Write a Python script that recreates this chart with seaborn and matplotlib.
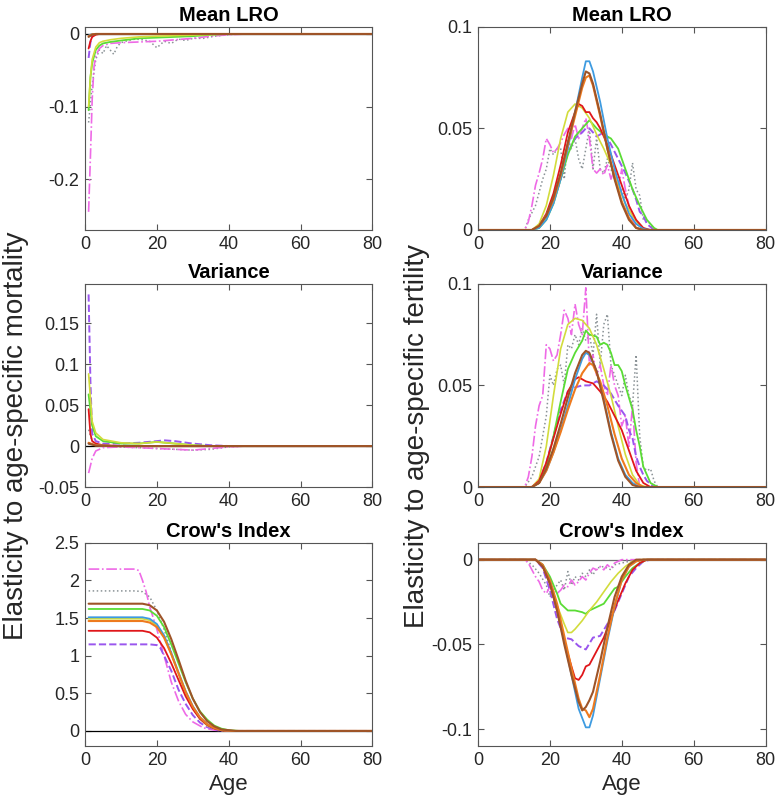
"""
Elasticity of LRO statistics to age-specific mortality and fertility.

Six panels: mean LRO, variance and Crow's index, each against age,
for mortality (left column) and fertility (right column).
"""
import matplotlib

matplotlib.use("Agg")
import matplotlib.pyplot as plt
import pandas as pd
import seaborn as sns

# ---------------------------------------------------------------- data
# each series is a list of (age, elasticity) points

# mortality, mean LRO
MM_BLUE = [(1, -0.002), (2, 0), (80, 0)]
MM_ORANGE = [(1, -0.003), (2, -0.0005), (3, 0), (80, 0)]
MM_YELLOW = [(1, -0.100), (1.5, -0.060), (2, -0.035), (3, -0.018), (4, -0.012), (5, -0.010),
             (7, -0.008), (10, -0.006), (15, -0.004), (20, -0.003), (30, -0.0015), (40, 0), (80, 0)]
MM_GREEN = [(1, -0.105), (1.5, -0.060), (2, -0.040), (3, -0.022), (4, -0.016), (5, -0.013),
            (7, -0.011), (10, -0.009), (15, -0.006), (20, -0.005), (25, -0.004), (30, -0.003),
            (35, -0.001), (40, 0), (80, 0)]
MM_RED = [(1, -0.020), (1.5, -0.010), (2, -0.004), (3, -0.001), (4, 0), (80, 0)]
MM_BROWN = [(1, -0.004), (2, -0.001), (3, 0), (80, 0)]
MM_PURPLE = [(1, -0.033), (1.5, -0.012), (2, -0.003), (3, 0), (80, 0)]
MM_GREY = [(1, -0.122), (2, -0.070), (3, -0.035), (4, -0.022), (5, -0.027), (6, -0.016),
           (7, -0.022), (8, -0.028), (9, -0.017), (10, -0.012), (12, -0.009), (14, -0.007),
           (16, -0.008), (18, -0.010), (20, -0.019), (22, -0.010), (24, -0.013), (26, -0.007),
           (28, -0.009), (30, -0.006), (33, -0.006), (36, -0.003), (40, -0.001), (43, 0), (80, 0)]
MM_MAGENTA = [(1, -0.245), (1.5, -0.170), (2, -0.090), (2.5, -0.045), (3, -0.030), (4, -0.020),
              (5, -0.016), (7, -0.013), (10, -0.012), (15, -0.011), (20, -0.010), (25, -0.008),
              (30, -0.006), (35, -0.003), (40, -0.001), (45, 0), (80, 0)]

# mortality, variance
MV_BLUE = [(1, 0.003), (3, 0.001), (8, 0), (80, 0)]
MV_ORANGE = [(1, 0.004), (3, 0.001), (8, 0), (80, 0)]
MV_YELLOW = [(1, 0.088), (2, 0.030), (3, 0.016), (5, 0.008), (10, 0.004), (15, 0.003),
             (20, 0.005), (25, 0.003), (30, 0.001), (35, 0), (80, 0)]
MV_GREEN = [(1, 0.063), (2, 0.025), (3, 0.012), (5, 0.006), (10, 0.003), (15, 0.003),
            (20, 0.005), (25, 0.003), (30, 0.001), (35, 0), (80, 0)]
MV_RED = [(1, 0.045), (1.5, 0.015), (2, 0.006), (3, 0.003), (5, 0.001), (10, 0), (80, 0)]
MV_BROWN = [(1, 0.003), (3, 0.0005), (8, 0), (80, 0)]
MV_PURPLE = [(1, 0.185), (1.5, 0.080), (2, 0.015), (3, 0.006), (5, 0.003), (10, 0.003),
             (15, 0.004), (20, 0.006), (22, 0.007), (25, 0.006), (30, 0.003), (35, 0.001),
             (40, 0), (80, 0)]
MV_GREY = [(1, 0.020), (2, 0.006), (4, 0.001), (8, -0.001), (15, -0.002), (20, -0.003),
           (25, -0.004), (30, -0.005), (35, -0.004), (40, -0.001), (45, 0), (80, 0)]
MV_MAGENTA = [(1, -0.033), (2, -0.015), (3, -0.006), (5, -0.002), (10, -0.001), (15, -0.002),
              (20, -0.003), (25, -0.004), (30, -0.005), (35, -0.003), (40, -0.001), (45, 0), (80, 0)]

# mortality, Crow's index
MC_BLUE = [(1, 1.51), (16, 1.51), (18, 1.49), (20, 1.42), (22, 1.27), (24, 1.04), (26, 0.78),
           (28, 0.53), (30, 0.33), (32, 0.18), (34, 0.09), (36, 0.04), (38, 0.01), (41, 0), (80, 0)]
MC_ORANGE = [(1, 1.46), (16, 1.46), (18, 1.44), (20, 1.38), (22, 1.24), (24, 1.02), (26, 0.77),
             (28, 0.52), (30, 0.32), (32, 0.18), (34, 0.09), (36, 0.04), (38, 0.01), (41, 0), (80, 0)]
MC_YELLOW = [(1, 1.49), (16, 1.49), (18, 1.47), (20, 1.40), (22, 1.25), (24, 1.02), (26, 0.76),
             (28, 0.50), (30, 0.30), (32, 0.16), (34, 0.07), (36, 0.03), (39, 0), (80, 0)]
MC_GREEN = [(1, 1.62), (16, 1.62), (18, 1.60), (20, 1.53), (22, 1.38), (24, 1.15), (26, 0.90),
            (28, 0.65), (30, 0.43), (32, 0.26), (34, 0.15), (36, 0.07), (38, 0.03), (40, 0.01),
            (43, 0), (80, 0)]
MC_RED = [(1, 1.33), (16, 1.33), (18, 1.31), (20, 1.24), (22, 1.10), (24, 0.90), (26, 0.68),
          (28, 0.46), (30, 0.29), (32, 0.16), (34, 0.08), (36, 0.03), (39, 0), (80, 0)]
MC_BROWN = [(1, 1.69), (16, 1.69), (18, 1.67), (20, 1.60), (22, 1.45), (24, 1.22), (26, 0.95),
            (28, 0.67), (30, 0.43), (32, 0.25), (34, 0.13), (36, 0.06), (38, 0.02), (42, 0), (80, 0)]
MC_PURPLE = [(1, 1.15), (18, 1.15), (20, 1.14), (21, 1.10), (22, 1.00), (23, 0.90), (24, 0.80),
             (26, 0.55), (28, 0.36), (30, 0.21), (32, 0.11), (34, 0.05), (37, 0.01), (40, 0), (80, 0)]
MC_GREY = [(1, 1.86), (14, 1.86), (16, 1.85), (18, 1.78), (20, 1.60), (22, 1.35), (24, 1.05),
           (26, 0.75), (28, 0.50), (30, 0.30), (32, 0.16), (35, 0.06), (38, 0.01), (41, 0), (80, 0)]
MC_MAGENTA = [(1, 2.15), (14, 2.15), (15, 2.13), (16, 2.00), (17, 1.85), (18, 1.65), (20, 1.35),
              (22, 1.00), (24, 0.65), (26, 0.40), (28, 0.22), (30, 0.12), (33, 0.04), (36, 0.01),
              (40, 0), (80, 0)]

# fertility, mean LRO
FM_BLUE = [(0, 0), (15, 0), (17, 0.001), (19, 0.005), (21, 0.013), (23, 0.025), (25, 0.040),
           (27, 0.058), (29, 0.075), (30, 0.083), (31, 0.083), (32, 0.078), (34, 0.063),
           (36, 0.045), (38, 0.030), (40, 0.018), (42, 0.008), (44, 0.003), (46, 0.0005),
           (48, 0), (80, 0)]
FM_ORANGE = [(0, 0), (15, 0), (17, 0.002), (19, 0.007), (21, 0.015), (23, 0.027), (25, 0.042),
             (27, 0.056), (29, 0.070), (30, 0.075), (31, 0.076), (32, 0.071), (34, 0.056),
             (36, 0.040), (38, 0.026), (40, 0.014), (42, 0.006), (44, 0.001), (46, 0), (80, 0)]
FM_YELLOW = [(0, 0), (15, 0), (17, 0.003), (19, 0.012), (21, 0.027), (23, 0.045), (25, 0.058),
             (27, 0.062), (29, 0.060), (31, 0.055), (33, 0.047), (35, 0.040), (37, 0.032),
             (39, 0.022), (41, 0.013), (43, 0.007), (45, 0.002), (47, 0), (80, 0)]
FM_GREEN = [(0, 0), (15, 0), (17, 0.001), (19, 0.005), (21, 0.013), (23, 0.025), (25, 0.037),
            (27, 0.046), (29, 0.050), (31, 0.054), (33, 0.050), (35, 0.047), (37, 0.045),
            (39, 0.040), (41, 0.030), (43, 0.020), (45, 0.012), (47, 0.005), (49, 0.001),
            (50, 0), (80, 0)]
FM_RED = [(0, 0), (15, 0), (17, 0.002), (19, 0.008), (21, 0.018), (23, 0.032), (25, 0.048),
          (27, 0.058), (28, 0.062), (29, 0.061), (30, 0.058), (31, 0.058), (32, 0.055),
          (33, 0.053), (34, 0.050), (36, 0.042), (38, 0.032), (40, 0.022), (42, 0.012),
          (44, 0.005), (46, 0.001), (48, 0), (80, 0)]
FM_BROWN = [(0, 0), (15, 0), (17, 0.002), (19, 0.007), (21, 0.016), (23, 0.028), (25, 0.043),
            (27, 0.058), (29, 0.072), (30, 0.078), (31, 0.077), (32, 0.072), (34, 0.057),
            (36, 0.040), (38, 0.025), (40, 0.013), (42, 0.005), (44, 0.001), (46, 0), (80, 0)]
FM_PURPLE = [(0, 0), (15, 0), (17, 0.002), (19, 0.006), (21, 0.014), (23, 0.025), (25, 0.038),
             (27, 0.045), (29, 0.048), (30, 0.050), (31, 0.050), (33, 0.046), (35, 0.048),
             (37, 0.042), (39, 0.035), (41, 0.028), (43, 0.020), (44, 0.015), (45, 0.009),
             (46, 0.007), (47, 0.003), (49, 0), (80, 0)]
FM_GREY = [(0, 0), (13, 0), (14, 0.005), (16, 0.012), (18, 0.025), (19, 0.030), (20, 0.040),
           (21, 0.037), (22, 0.040), (23, 0.040), (24, 0.025), (25, 0.045), (26, 0.040),
           (27, 0.045), (28, 0.035), (29, 0.030), (30, 0.040), (31, 0.050), (32, 0.030),
           (33, 0.045), (34, 0.030), (35, 0.028), (36, 0.035), (37, 0.030), (38, 0.025),
           (39, 0.020), (40, 0.020), (41, 0.015), (42, 0.020), (43, 0.033), (44, 0.020),
           (45, 0.017), (46, 0.005), (47, 0.004), (48, 0.003), (49, 0), (80, 0)]
FM_MAGENTA = [(0, 0), (13, 0), (14, 0.004), (15, 0.012), (16, 0.022), (17, 0.028), (18, 0.035),
              (19, 0.045), (20, 0.042), (21, 0.038), (22, 0.040), (23, 0.043), (24, 0.047),
              (25, 0.050), (26, 0.045), (27, 0.052), (28, 0.045), (29, 0.050), (30, 0.055),
              (31, 0.045), (32, 0.030), (33, 0.028), (34, 0.030), (35, 0.027), (36, 0.032),
              (37, 0.025), (38, 0.030), (39, 0.020), (40, 0.030), (41, 0.020), (42, 0.012),
              (43, 0.005), (44, 0.002), (45, 0), (80, 0)]

# fertility, variance
FV_BLUE = [(0, 0), (15, 0), (17, 0.002), (19, 0.008), (21, 0.017), (23, 0.028), (25, 0.040),
           (27, 0.053), (29, 0.063), (30, 0.066), (31, 0.065), (33, 0.057), (35, 0.043),
           (37, 0.027), (39, 0.014), (41, 0.006), (43, 0.002), (45, 0), (80, 0)]
FV_ORANGE = [(0, 0), (15, 0), (17, 0.002), (19, 0.008), (21, 0.017), (23, 0.027), (25, 0.038),
             (27, 0.048), (29, 0.056), (31, 0.061), (32, 0.060), (34, 0.052), (36, 0.040),
             (38, 0.026), (40, 0.014), (42, 0.006), (44, 0.002), (46, 0), (80, 0)]
FV_YELLOW = [(0, 0), (15, 0), (17, 0.004), (19, 0.020), (21, 0.045), (23, 0.068), (25, 0.080),
             (27, 0.083), (29, 0.082), (31, 0.078), (33, 0.070), (35, 0.058), (37, 0.045),
             (39, 0.030), (41, 0.016), (43, 0.006), (45, 0.001), (47, 0), (80, 0)]
FV_GREEN = [(0, 0), (15, 0), (17, 0.002), (19, 0.010), (21, 0.025), (23, 0.042), (25, 0.058),
            (27, 0.066), (29, 0.072), (30, 0.077), (31, 0.075), (33, 0.074), (34, 0.070),
            (35, 0.071), (36, 0.070), (37, 0.066), (38, 0.060), (39, 0.060), (40, 0.057),
            (41, 0.050), (43, 0.038), (44, 0.028), (45, 0.020), (46, 0.010), (47, 0.006),
            (48, 0.002), (50, 0), (80, 0)]
FV_RED = [(0, 0), (15, 0), (17, 0.003), (19, 0.012), (21, 0.024), (23, 0.036), (25, 0.047),
          (27, 0.053), (28, 0.054), (30, 0.052), (32, 0.051), (34, 0.047), (36, 0.042),
          (38, 0.035), (40, 0.028), (42, 0.018), (44, 0.008), (46, 0.002), (48, 0), (80, 0)]
FV_BROWN = [(0, 0), (15, 0), (17, 0.002), (19, 0.009), (21, 0.019), (23, 0.031), (25, 0.044),
            (27, 0.056), (29, 0.065), (30, 0.067), (31, 0.066), (33, 0.057), (35, 0.042),
            (37, 0.026), (39, 0.013), (41, 0.005), (43, 0.001), (45, 0), (80, 0)]
FV_PURPLE = [(0, 0), (15, 0), (17, 0.003), (19, 0.012), (21, 0.025), (23, 0.038), (25, 0.047),
             (27, 0.049), (29, 0.050), (31, 0.050), (33, 0.052), (35, 0.050), (37, 0.046),
             (39, 0.040), (41, 0.035), (42, 0.028), (43, 0.024), (44, 0.015), (45, 0.010),
             (46, 0.006), (47, 0.003), (49, 0), (80, 0)]
FV_GREY = [(0, 0), (13, 0), (15, 0.005), (17, 0.015), (18, 0.025), (19, 0.035), (20, 0.055),
           (21, 0.050), (22, 0.058), (23, 0.060), (24, 0.050), (25, 0.070), (26, 0.068),
           (27, 0.075), (28, 0.070), (29, 0.078), (30, 0.072), (31, 0.075), (32, 0.065),
           (33, 0.085), (34, 0.060), (35, 0.080), (36, 0.085), (37, 0.060), (38, 0.055),
           (39, 0.050), (40, 0.045), (41, 0.055), (42, 0.045), (43, 0.040), (44, 0.065),
           (45, 0.025), (46, 0.010), (47, 0.008), (48, 0.009), (49, 0.003), (50, 0), (80, 0)]
FV_MAGENTA = [(0, 0), (13, 0), (14, 0.005), (15, 0.015), (16, 0.030), (17, 0.040), (18, 0.045),
              (19, 0.070), (20, 0.068), (21, 0.062), (22, 0.065), (23, 0.075), (24, 0.087),
              (25, 0.083), (26, 0.075), (27, 0.090), (28, 0.080), (29, 0.075), (30, 0.098),
              (31, 0.060), (32, 0.065), (33, 0.055), (34, 0.060), (35, 0.050), (36, 0.045),
              (37, 0.060), (38, 0.050), (39, 0.045), (40, 0.030), (41, 0.035), (42, 0.020),
              (43, 0.040), (44, 0.012), (45, 0), (80, 0)]

# fertility, Crow's index
FC_BLUE = [(0, 0), (16, 0), (18, -0.003), (20, -0.012), (22, -0.028), (24, -0.048), (26, -0.068),
           (28, -0.088), (30, -0.099), (31, -0.099), (32, -0.092), (34, -0.070), (36, -0.048),
           (38, -0.028), (40, -0.012), (42, -0.004), (44, -0.001), (46, 0), (80, 0)]
FC_ORANGE = [(0, 0), (16, 0), (18, -0.003), (20, -0.012), (22, -0.026), (24, -0.045),
             (26, -0.064), (28, -0.082), (29, -0.088), (30, -0.089), (31, -0.093), (32, -0.088),
             (34, -0.068), (36, -0.046), (38, -0.027), (40, -0.012), (42, -0.004), (44, -0.001),
             (46, 0), (80, 0)]
FC_YELLOW = [(0, 0), (16, 0), (18, -0.004), (20, -0.014), (22, -0.027), (24, -0.038),
             (25, -0.043), (26, -0.043), (27, -0.041), (29, -0.036), (31, -0.030), (33, -0.025),
             (35, -0.019), (37, -0.013), (39, -0.008), (41, -0.004), (43, -0.001), (45, 0), (80, 0)]
FC_GREEN = [(0, 0), (16, 0), (18, -0.003), (20, -0.010), (22, -0.020), (23, -0.026), (25, -0.030),
            (27, -0.030), (29, -0.031), (30, -0.032), (31, -0.030), (33, -0.028), (35, -0.026),
            (37, -0.020), (38, -0.017), (39, -0.016), (41, -0.010), (43, -0.005), (45, -0.002),
            (47, 0), (80, 0)]
FC_RED = [(0, 0), (16, 0), (18, -0.004), (20, -0.014), (22, -0.030), (24, -0.048), (26, -0.063),
          (27, -0.070), (28, -0.071), (29, -0.068), (30, -0.063), (31, -0.062), (32, -0.058),
          (33, -0.054), (34, -0.050), (35, -0.046), (37, -0.035), (39, -0.024), (41, -0.014),
          (43, -0.006), (45, -0.002), (47, 0), (80, 0)]
FC_BROWN = [(0, 0), (16, 0), (18, -0.004), (20, -0.014), (22, -0.030), (24, -0.050), (26, -0.068),
            (28, -0.084), (29, -0.089), (30, -0.087), (31, -0.083), (32, -0.078), (34, -0.060),
            (36, -0.040), (38, -0.022), (40, -0.010), (42, -0.003), (44, 0), (80, 0)]
FC_PURPLE = [(0, 0), (16, 0), (18, -0.005), (20, -0.018), (22, -0.035), (24, -0.046),
             (26, -0.047), (28, -0.051), (30, -0.053), (32, -0.046), (34, -0.045), (36, -0.038),
             (38, -0.030), (40, -0.020), (42, -0.010), (44, -0.005), (46, -0.001), (48, 0), (80, 0)]
FC_GREY = [(0, 0), (13, 0), (15, -0.003), (17, -0.008), (19, -0.015), (20, -0.022), (21, -0.018),
           (22, -0.015), (23, -0.012), (24, -0.018), (25, -0.007), (26, -0.015), (27, -0.010),
           (28, -0.012), (29, -0.008), (30, -0.010), (31, -0.006), (32, -0.009), (33, -0.005),
           (35, -0.004), (37, -0.006), (38, -0.003), (40, -0.002), (42, -0.001), (44, 0), (80, 0)]
FC_MAGENTA = [(0, 0), (13, 0), (14, -0.002), (15, -0.006), (16, -0.010), (17, -0.013),
              (18, -0.018), (19, -0.020), (20, -0.016), (21, -0.017), (22, -0.020), (23, -0.018),
              (24, -0.015), (25, -0.016), (26, -0.012), (27, -0.015), (28, -0.013), (29, -0.010),
              (30, -0.012), (31, -0.008), (32, -0.005), (33, -0.006), (34, -0.004), (35, -0.006),
              (36, -0.003), (37, -0.005), (38, -0.002), (39, -0.001), (40, 0), (80, 0)]

# ---------------------------------------------------------------- styles
STYLES = {
    "grey": ("#8a9296", ":", 1.1),
    "magenta": ("#ee6ae6", "-.", 1.2),
    "purple": ("#9a56ee", "--", 1.4),
    "green": ("#5adc35", "-", 1.3),
    "yellow": ("#d2dc3c", "-", 1.2),
    "red": ("#e0161a", "-", 1.3),
    "blue": ("#3e9be0", "-", 1.3),
    "orange": ("#ee7a1e", "-", 1.5),
    "brown": ("#9e5428", "-", 1.5),
}
ORDER = ["grey", "magenta", "purple", "green", "yellow", "red", "blue", "orange", "brown"]

PANELS = [
    # (series by key, title, ylim, yticks, zero line colour)
    (dict(grey=MM_GREY, magenta=MM_MAGENTA, purple=MM_PURPLE, green=MM_GREEN, yellow=MM_YELLOW,
          red=MM_RED, blue=MM_BLUE, orange=MM_ORANGE, brown=MM_BROWN),
     "Mean LRO", (-0.27, 0.01), [-0.2, -0.1, 0], "black"),
    (dict(grey=FM_GREY, magenta=FM_MAGENTA, purple=FM_PURPLE, green=FM_GREEN, yellow=FM_YELLOW,
          red=FM_RED, blue=FM_BLUE, orange=FM_ORANGE, brown=FM_BROWN),
     "Mean LRO", (0, 0.1), [0, 0.05, 0.1], None),
    (dict(grey=MV_GREY, magenta=MV_MAGENTA, purple=MV_PURPLE, green=MV_GREEN, yellow=MV_YELLOW,
          red=MV_RED, blue=MV_BLUE, orange=MV_ORANGE, brown=MV_BROWN),
     "Variance", (-0.05, 0.198), [-0.05, 0, 0.05, 0.1, 0.15], "black"),
    (dict(grey=FV_GREY, magenta=FV_MAGENTA, purple=FV_PURPLE, green=FV_GREEN, yellow=FV_YELLOW,
          red=FV_RED, blue=FV_BLUE, orange=FV_ORANGE, brown=FV_BROWN),
     "Variance", (0, 0.1), [0, 0.05, 0.1], None),
    (dict(grey=MC_GREY, magenta=MC_MAGENTA, purple=MC_PURPLE, green=MC_GREEN, yellow=MC_YELLOW,
          red=MC_RED, blue=MC_BLUE, orange=MC_ORANGE, brown=MC_BROWN),
     "Crow's Index", (-0.2, 2.5), [0, 0.5, 1, 1.5, 2, 2.5], "black"),
    (dict(grey=FC_GREY, magenta=FC_MAGENTA, purple=FC_PURPLE, green=FC_GREEN, yellow=FC_YELLOW,
          red=FC_RED, blue=FC_BLUE, orange=FC_ORANGE, brown=FC_BROWN),
     "Crow's Index", (-0.11, 0.01), [-0.1, -0.05, 0], "#6e6e6e"),
]

# axes rectangles in figure fraction: left / right column, three rows
COL_X = [0.1094, 0.6152]
COL_W = 0.370
ROW_Y = [0.7143, 0.395, 0.0733]
ROW_H = 0.2525

sns.set_theme(style="white")
plt.rcParams["font.family"] = ["Liberation Sans", "DejaVu Sans"]
plt.rcParams["axes.unicode_minus"] = False

AXIS_GREY = "#555555"
TEXT_GREY = "#262626"


def _tick_label(v: float) -> str:
    return f"{v:g}"


def _draw_series(ax, pts, key):
    df = pd.DataFrame(pts, columns=["age", "value"])
    color, ls, lw = STYLES[key]
    sns.lineplot(data=df, x="age", y="value", ax=ax, color=color, linestyle=ls,
                 linewidth=lw, estimator=None, sort=False)


fig = plt.figure(figsize=(7.77, 8.05), dpi=100)

for i, (series, title, ylim, yticks, zero_col) in enumerate(PANELS):
    row, col = divmod(i, 2)
    ax = fig.add_axes([COL_X[col], ROW_Y[row], COL_W, ROW_H])

    if zero_col is not None:
        ax.axhline(0, color=zero_col, linewidth=0.9, zorder=1)
    for key in ORDER:
        _draw_series(ax, series[key], key)

    ax.set_xlim(0, 80)
    ax.set_ylim(*ylim)
    ax.set_xticks([0, 20, 40, 60, 80])
    ax.set_xticklabels([_tick_label(v) for v in [0, 20, 40, 60, 80]])
    ax.set_yticks(yticks)
    ax.set_yticklabels([_tick_label(v) for v in yticks])
    ax.set_xlabel("")
    ax.set_ylabel("")
    ax.set_title(title, fontsize=14.5, fontweight="bold", color="black", pad=4)

    ax.tick_params(direction="in", length=4, width=0.8, colors=AXIS_GREY,
                   labelcolor=TEXT_GREY, labelsize=13, top=True, right=True,
                   bottom=True, left=True, pad=4)
    for spine in ax.spines.values():
        spine.set_color(AXIS_GREY)
        spine.set_linewidth(0.8)

    if row == 2:
        ax.set_xlabel("Age", fontsize=16, color=TEXT_GREY, labelpad=4)

fig.text(0.021, 0.459, "Elasticity to age-specific mortality", rotation=90,
         ha="center", va="center", fontsize=20, color=TEXT_GREY)
fig.text(0.537, 0.459, "Elasticity to age-specific fertility", rotation=90,
         ha="center", va="center", fontsize=20, color=TEXT_GREY)

fig.savefig("out.png", dpi=100, facecolor="white")
